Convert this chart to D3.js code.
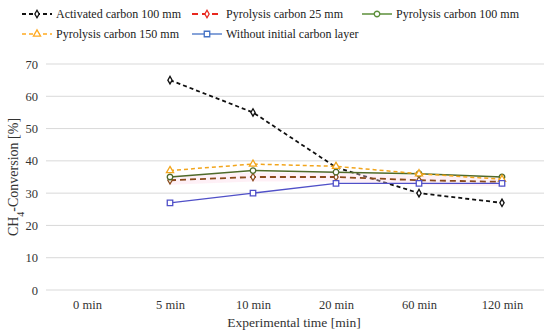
<!DOCTYPE html>
<html>
<head>
<meta charset="utf-8">
<script src="https://cdn.jsdelivr.net/npm/d3@7"></script>
<style>
  body { margin: 0; background: #fff; }
</style>
</head>
<body>
<svg id="chart" width="550" height="336"></svg>
<script>
// data
var categories = ["0 min", "5 min", "10 min", "20 min", "60 min", "120 min"];
var seriesNames = ["Activated carbon 100 mm", "Pyrolysis carbon 25 mm", "Pyrolysis carbon 100 mm",
                   "Pyrolysis carbon 150 mm", "Without initial carbon layer"];
var activated100 = [null, 65, 55, 38, 30, 27];
var pyrolysis25 = [null, 34, 35, 35, 34, 33.5];
var pyrolysis100 = [null, 35, 37, 36.5, 36, 35];
var pyrolysis150 = [null, 37, 39, 38.3, 36, 34.3];
var withoutLayer = [null, 27, 30, 33, 33, 33];
var yTicks = [0, 10, 20, 30, 40, 50, 60, 70];

var FONT = "'Liberation Serif', 'DejaVu Serif', serif";

var series = [
  {name: seriesNames[0], values: activated100, color: "#111", legendColor: "#111", dash: "4,3", marker: "diamond", width: 1.8},
  {name: seriesNames[1], values: pyrolysis25, color: "#8a4a1c", legendColor: "#e8281e", dash: "6,4", marker: "diamond", width: 1.8, glow: true},
  {name: seriesNames[2], values: pyrolysis100, color: "#4f6a2a", legendColor: "#5c8f3a", dash: null, marker: "circle", width: 1.5},
  {name: seriesNames[3], values: pyrolysis150, color: "#f2a51c", legendColor: "#ffaa22", dash: "4,3", marker: "triangle", width: 1.5},
  {name: seriesNames[4], values: withoutLayer, color: "#5050c8", legendColor: "#4472c4", dash: null, marker: "square", width: 1.3}
];

var svg = d3.select("#chart");

var x = d3.scalePoint().domain(categories).range([87, 502]);
var y = d3.scaleLinear().domain([0, 70]).range([290, 64]);

// grid
svg.append("g")
  .selectAll("line")
  .data(yTicks)
  .join("line")
    .attr("x1", 46).attr("x2", 544)
    .attr("y1", d => y(d)).attr("y2", d => y(d))
    .attr("stroke", "#d9d9d9")
    .attr("stroke-width", 1);

// axes (labels only)
var yAxis = svg.append("g")
  .attr("transform", "translate(38,0)")
  .call(d3.axisLeft(y).tickValues(yTicks).tickSize(0).tickPadding(0));
yAxis.select(".domain").remove();
yAxis.attr("font-family", FONT).attr("font-size", 12.5);
yAxis.selectAll("text").attr("fill", "#333");

var xAxis = svg.append("g")
  .attr("transform", "translate(0,300)")
  .call(d3.axisBottom(x).tickSize(0).tickPadding(0));
xAxis.select(".domain").remove();
xAxis.attr("font-family", FONT).attr("font-size", 12.5);
xAxis.selectAll("text").attr("fill", "#333");

// axis titles
svg.append("text")
  .attr("x", 294).attr("y", 327)
  .attr("text-anchor", "middle")
  .attr("font-family", FONT).attr("font-size", 13.5).attr("fill", "#333")
  .text("Experimental time [min]");

var yt = svg.append("text")
  .attr("transform", "translate(18,177) rotate(-90)")
  .attr("text-anchor", "middle")
  .attr("font-family", FONT).attr("font-size", 14).attr("fill", "#333");
yt.append("tspan").text("CH");
yt.append("tspan").attr("baseline-shift", "sub").attr("font-size", 10).text("4");
yt.append("tspan").text("-Conversion [%]");

function markerPath(type) {
  var sym = {diamond: d3.symbolDiamond, circle: d3.symbolCircle, triangle: d3.symbolTriangle, square: d3.symbolSquare}[type];
  var size = {diamond: 16, circle: 24, triangle: 22, square: 30}[type];
  return d3.symbol().type(sym).size(size)();
}

var line = d3.line()
  .defined(d => d.v != null)
  .x(d => x(d.c))
  .y(d => y(d.v));

series.forEach(function(s) {
  var pts = s.values.map((v, i) => ({c: categories[i], v: v}));
  if (s.glow) {
    svg.append("path")
      .datum(pts)
      .attr("d", line)
      .attr("fill", "none")
      .attr("stroke", "#fbd3e4")
      .attr("stroke-opacity", 0.35)
      .attr("stroke-width", 9);
  }
  svg.append("path")
    .datum(pts)
    .attr("d", line)
    .attr("fill", "none")
    .attr("stroke", s.color)
    .attr("stroke-width", s.width)
    .attr("stroke-dasharray", s.dash);
  svg.append("g")
    .selectAll("path")
    .data(pts.filter(d => d.v != null))
    .join("path")
      .attr("transform", d => "translate(" + x(d.c) + "," + y(d.v) + ")")
      .attr("d", markerPath(s.marker))
      .attr("fill", "#fff")
      .attr("stroke", s.color)
      .attr("stroke-width", 1.3);
});

// legend
var legendPos = [[22, 14], [192, 14], [362, 14], [22, 34], [192, 34]];
series.forEach(function(s, i) {
  var g = svg.append("g").attr("transform", "translate(" + legendPos[i][0] + "," + legendPos[i][1] + ")");
  g.append("line")
    .attr("x1", 0).attr("x2", 30).attr("y1", 0).attr("y2", 0)
    .attr("stroke", s.legendColor)
    .attr("stroke-width", s.width)
    .attr("stroke-dasharray", s.dash);
  g.append("path")
    .attr("transform", "translate(15,0)")
    .attr("d", markerPath(s.marker))
    .attr("fill", "#fff")
    .attr("stroke", s.legendColor)
    .attr("stroke-width", 1.3);
  g.append("text")
    .attr("x", 34).attr("y", 4)
    .attr("font-family", FONT).attr("font-size", 12).attr("fill", "#222")
    .text(s.name);
});
</script>
</body>
</html>
